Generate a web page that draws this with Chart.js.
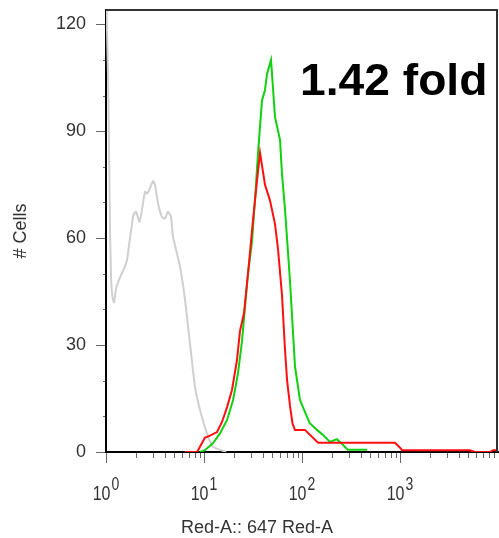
<!DOCTYPE html>
<html>
<head>
<meta charset="utf-8">
<script src="https://cdn.jsdelivr.net/npm/chart.js@4/dist/chart.umd.min.js"></script>
<style>
html, body { margin: 0; padding: 0; background: #fff; }
#wrap { width: 499px; height: 538px; }
</style>
</head>
<body>
<div id="wrap"><canvas id="myChart" width="499" height="538"></canvas></div>
<script>
// histogram traces (x = intensity, y = cell count)
var grayX = [1.0, 1.05, 1.08, 1.10, 1.13, 1.17, 1.21, 1.27, 1.42, 1.56, 1.64, 1.90, 2.02, 2.20, 2.50, 2.62, 2.81, 3.02, 3.16, 3.39, 3.72, 4.00, 4.29, 4.60, 4.83, 5.69, 6.41, 7.19, 8.09, 9.10, 10.7, 12.3, 16.8];
var grayY = [130, 105, 80, 62, 48, 43, 42, 46, 49.6, 52, 54, 66.4, 67.4, 64.6, 73, 72.5, 74, 76, 75, 69.8, 66, 65.5, 67.4, 66, 60.4, 52, 42.6, 30.5, 18.3, 11.8, 5.3, 1.5, 0];

var greenX = [9.1, 10.2, 12.4, 14.6, 17.2, 19.8, 22.2, 24.4, 26.2, 28.1, 30.9, 33.1, 35.6, 39.1, 41.9, 43.9, 48.3, 53.0, 59.7, 62.5, 67.1, 75.4, 84.8, 95.3, 112, 120, 142, 164, 193, 227, 244, 294, 461];
var greenY = [0, 0.5, 2.5, 5.3, 9, 14.6, 22, 31, 40.7, 50, 59, 70.6, 84, 98.7, 101.5, 106, 110, 94, 87.5, 78, 68, 48, 24, 14.6, 10, 8.1, 6.2, 4.8, 2.8, 3.6, 2.8, 0.6, 0.6];

var redX = [6.4, 8.5, 10.2, 11.5, 13.6, 15.3, 17.2, 19.3, 21.7, 23.3, 25.6, 28.1, 31.6, 34.7, 37.3, 41.9, 47.1, 53.0, 56.9, 62.5, 67.1, 70.5, 75.4, 80, 84.8, 107, 146, 889, 1000, 1048, 5180, 5825, 8285, 8890, 10000];
var redY = [0, 0, 4.0, 4.6, 5.6, 8.5, 12.6, 17.4, 25.8, 34, 39, 50, 65, 76, 84, 75, 70.6, 64, 57, 44, 28.6, 20, 13, 8, 6.2, 6.2, 2.6, 2.6, 1.2, 0.5, 0.5, 0, 0, 0.5, 0.5];

var yTicks = [0, 30, 60, 90, 120];
var xDecades = [0, 1, 2, 3];
var xTitle = 'Red-A:: 647 Red-A';
var yTitle = '# Cells';
var foldLabel = '1.42 fold';

function pts(xs, ys) {
    return xs.map(function (x, i) { return { x: x, y: ys[i] }; });
}

Chart.defaults.font.family = "'Liberation Sans', Arial, sans-serif";

// ticks, superscript decade labels, frame and the annotation
var extras = {
    id: 'extras',
    afterDraw: function (chart) {
        var ctx = chart.ctx;
        var area = chart.chartArea;
        var xs = chart.scales.x;
        var ys = chart.scales.y;
        ctx.save();

        // frame top and right
        ctx.strokeStyle = '#333';
        ctx.lineWidth = 2;
        ctx.beginPath();
        ctx.moveTo(area.left, area.top);
        ctx.lineTo(area.right - 1, area.top);
        ctx.lineTo(area.right - 1, area.bottom);
        ctx.stroke();

        // y ticks
        ctx.strokeStyle = '#666';
        ctx.lineWidth = 1;
        ctx.beginPath();
        for (var v = 0; v <= 120; v += 10) {
            var py = Math.round(ys.getPixelForValue(v)) + 0.5;
            var len = v % 30 === 0 ? 10 : 3;
            ctx.moveTo(area.left - len, py);
            ctx.lineTo(area.left - 1, py);
        }
        // x ticks
        xDecades.forEach(function (e) {
            for (var m = 1; m <= 9; m++) {
                var px = Math.round(xs.getPixelForValue(m * Math.pow(10, e))) + 0.5;
                var l = m === 1 ? 11 : 6;
                ctx.moveTo(px, area.bottom + 1);
                ctx.lineTo(px, area.bottom + l);
            }
        });
        ctx.stroke();

        // decade labels 10^n
        ctx.fillStyle = '#333';
        ctx.textBaseline = 'alphabetic';
        ctx.textAlign = 'left';
        xDecades.forEach(function (e) {
            var px = xs.getPixelForValue(Math.pow(10, e));
            ctx.font = "16px 'Liberation Sans', Arial, sans-serif";
            var w1 = ctx.measureText('10').width;
            ctx.font = "14px 'Liberation Sans', Arial, sans-serif";
            var w2 = ctx.measureText(String(e)).width;
            var x0 = px - (w1 + w2 + 1) / 2;
            ctx.save();
            ctx.translate(x0, 500);
            ctx.scale(1, 1.3);
            ctx.font = "16px 'Liberation Sans', Arial, sans-serif";
            ctx.fillText('10', 0, 0);
            ctx.restore();
            ctx.save();
            ctx.translate(x0 + w1 + 1, 490);
            ctx.scale(1, 1.3);
            ctx.font = "14px 'Liberation Sans', Arial, sans-serif";
            ctx.fillText(String(e), 0, 0);
            ctx.restore();
        });

        // x axis title
        ctx.font = "18px 'Liberation Sans', Arial, sans-serif";
        ctx.textAlign = 'center';
        ctx.fillText(xTitle, 257, 533);

        // fold annotation
        ctx.save();
        ctx.fillStyle = '#000';
        ctx.textAlign = 'left';
        ctx.translate(300, 95);
        ctx.scale(1.05, 1);
        ctx.font = "bold 44px 'Liberation Sans', Arial, sans-serif";
        ctx.fillText(foldLabel, 0, 0);
        ctx.restore();

        ctx.restore();
    }
};

var ctx = document.getElementById('myChart').getContext('2d');
var myChart = new Chart(ctx, {
    type: 'scatter',
    data: {
        datasets: [{
            label: 'Red',
            data: pts(redX, redY),
            showLine: true,
            borderColor: '#ff1010',
            borderWidth: 2,
            pointRadius: 0
        }, {
            label: 'Green',
            data: pts(greenX, greenY),
            showLine: true,
            borderColor: '#10d010',
            borderWidth: 2,
            pointRadius: 0
        }, {
            label: 'Gray',
            data: pts(grayX, grayY),
            showLine: true,
            borderColor: '#cfcfcf',
            borderWidth: 2,
            pointRadius: 0,
            tension: 0.2
        }]
    },
    options: {
        responsive: false,
        animation: false,
        devicePixelRatio: 1,
        layout: {
            padding: { top: 10, right: 1, left: 0, bottom: 0 }
        },
        plugins: {
            legend: { display: false },
            tooltip: { enabled: false }
        },
        scales: {
            x: {
                type: 'logarithmic',
                min: 1,
                max: 10000,
                grid: { display: false, drawTicks: false },
                border: { display: true, color: '#000', width: 2 },
                ticks: { display: false },
                afterBuildTicks: function (s) {
                    s.ticks = xDecades.map(function (e) { return { value: Math.pow(10, e) }; });
                },
                afterFit: function (s) {
                    s.height = 86;
                    s.paddingLeft = 0;
                    s.paddingRight = 0;
                }
            },
            y: {
                min: 0,
                max: 124,
                grid: { display: false, drawTicks: false },
                border: { display: true, color: '#000', width: 2 },
                ticks: {
                    padding: 20,
                    color: '#333',
                    font: { size: 18 }
                },
                afterBuildTicks: function (s) {
                    s.ticks = yTicks.map(function (v) { return { value: v }; });
                },
                afterFit: function (s) {
                    s.width = 106;
                    s.paddingTop = 0;
                    s.paddingBottom = 0;
                },
                title: {
                    display: true,
                    text: yTitle,
                    color: '#333',
                    font: { size: 18 },
                    padding: { top: 10, bottom: 0 }
                }
            }
        }
    },
    plugins: [extras]
});
</script>
</body>
</html>
